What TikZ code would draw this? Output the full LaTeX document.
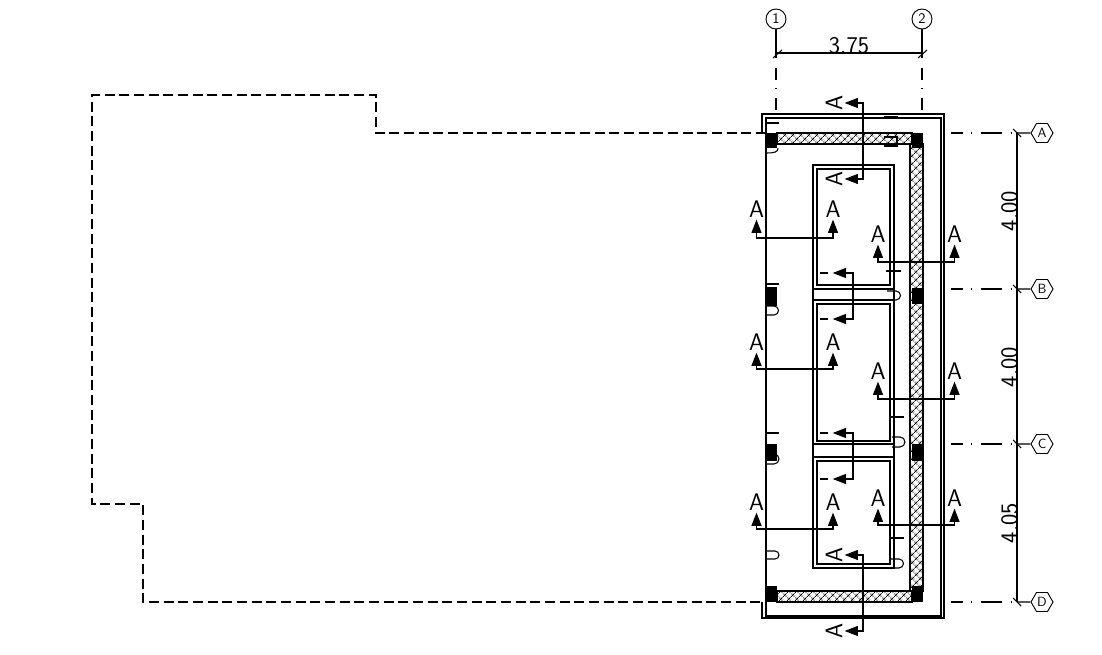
\documentclass[tikz,border=0pt]{standalone}
\usepackage{fontspec}
\usetikzlibrary{arrows.meta,patterns.meta,shapes.geometric}
\tikzset{
  >={Triangle[length=10pt,width=7.5pt]},
  wall/.style={draw=black, line width=.8pt},
  hatched/.style={draw=black, line width=.8pt, pattern={Hatch[angle=45,distance=4pt,line width=.55pt]}},
  column/.style={fill=black},
  fineline/.style={draw=black, line width=.8pt},
  outline/.style={draw=black, line width=.9pt, dash pattern=on 7.6pt off 3.4pt},
  axis/.style={draw=black, line width=.8pt, dash pattern=on 15.75pt off 6.5pt on .75pt off 6.5pt},
  axis start/.style={axis, dash phase=7pt},
  secpair/.style={draw, line width=.9pt, <->, shorten <=1.5pt, shorten >=1.5pt},
  secmid/.style={draw, line width=.9pt, <->, shorten <=9.5pt, shorten >=9.5pt},
  secmark/.style={inner sep=0pt, font=\sffamily\fontsize{18}{18}\selectfont},
  dimtext/.style={inner sep=0pt, font=\sffamily\fontsize{18}{18}\selectfont},
  axiscircle/.style={circle, draw, line width=.7pt, minimum size=15pt, inner sep=0pt,
    font=\sffamily\fontsize{11}{11}\selectfont},
  axishex/.style={regular polygon, regular polygon sides=6, draw, line width=.7pt,
    minimum size=16.5pt, inner sep=0pt, font=\sffamily\fontsize{10}{10}\selectfont},
}
\begin{document}
\begin{tikzpicture}[x=.75pt,y=-.75pt]
  \useasboundingbox (0,0) rectangle (1102,655);
  % dashed outline of the neighbouring plot
  \coordinate (plotA) at (766,133);
  \coordinate (plotD) at (766,602);
  \draw[outline] (plotA) -- (376,133) -- (376,95) -- (92,95) -- (92,504)
    -- (143,504) -- (143,602) -- (plotD);
  % frame
  \draw[wall] (762,133) -- (762,114) -- (944,114) -- (944,618) -- (762,618) -- (762,602);
  \draw[wall] (766,118) rectangle (941,616);
  % walls
  \filldraw[hatched] (777,133) rectangle (912,144);
  \filldraw[hatched] (777,591) rectangle (912,602);
  \filldraw[hatched] (910,144) rectangle (923,591);
  % columns
  \fill[column] (766,133) rectangle (777,148);
  \fill[column] (912,133) rectangle (923,148);
  \fill[column] (766,287) rectangle (777,306);
  \fill[column] (912,288) rectangle (923,304);
  \fill[column] (766,444) rectangle (777,461);
  \fill[column] (912,444) rectangle (923,461);
  \fill[column] (766,586) rectangle (777,602);
  \fill[column] (912,586) rectangle (923,602);
  % rooms
  \draw[wall] (813,165) rectangle (894,568);
  \draw[wall] (817,169) rectangle (890,285);
  \draw[wall] (813,289) -- (894,289);
  \draw[wall] (813,300) -- (894,300);
  \draw[wall] (817,304) rectangle (890,441);
  \draw[wall] (813,444) -- (894,444);
  \draw[wall] (813,457) -- (894,457);
  \draw[wall] (817,461) rectangle (890,564);
  % door marks
  \draw[fineline] (766,123) -- (779,123);
  \draw[fineline] (778,148) .. controls (778,152) and (775,153) .. (766,153);
  \draw[fineline] (766,284) -- (779,284);
  \draw[fineline] (766,306) -- (774,306) arc (-90:90:4.5) -- (766,315);
  \draw[fineline] (766,433) -- (779,433);
  \draw[fineline] (766,454) -- (774,454) arc (-90:90:5) -- (766,464);
  \draw[fineline] (766,551) -- (775,551) arc (-90:90:4) -- (766,559);
  \draw[fineline] (884,117) -- (898,117);
  \draw[fineline] (884,137) -- (897,137) -- (897,146) -- (884,146);
  \draw[fineline] (886,271) -- (901,271);
  \draw[fineline] (887,291) -- (896,291) arc (-90:90:4.5) -- (887,300);
  \draw[fineline] (891,417) -- (904,417);
  \draw[fineline] (892,437) -- (900,437) arc (-90:90:5) -- (892,447);
  \draw[fineline] (890,538) -- (904,538);
  \draw[fineline] (890,559) -- (899,559) arc (-90:90:4.5) -- (890,568);
  % axes 1 and 2
  \node[axiscircle] (ax1) at (776,19) {1};
  \node[axiscircle] (ax2) at (922,19) {2};
  \coordinate (ax1end) at (776,110);
  \coordinate (ax2end) at (922,110);
  \draw[fineline] (ax1) -- (776,58);
  \draw[fineline] (ax2) -- (922,58);
  \draw[axis start] (776,68) -- (ax1end);
  \draw[axis start] (922,68) -- (ax2end);
  \coordinate (dimx1) at (776,53);
  \coordinate (dimx2) at (922,53);
  \draw[fineline] (dimx1) -- (dimx2);
  \draw[fineline] (773,58) -- (782,50);
  \draw[fineline] (918,58) -- (927,50);
  \node[dimtext] (d375) at (849,45.5) {3.75};
  % axes A to D
  \node[axishex] (axA) at (1042,133) {A};
  \node[axishex] (axB) at (1042,289) {B};
  \node[axishex] (axC) at (1042,444) {C};
  \node[axishex] (axD) at (1042,602) {D};
  \draw[axis start] (951,133) -- (1013,133);
  \draw[axis start] (951,289) -- (1013,289);
  \draw[axis start] (951,444) -- (1013,444);
  \draw[axis start] (951,602) -- (1013,602);
  \coordinate (dimyA) at (1017,133);
  \coordinate (dimyB) at (1017,289);
  \coordinate (dimyC) at (1017,444);
  \coordinate (dimyD) at (1017,602);
  \draw[fineline] (1013,129) -- (1021,137);
  \draw[fineline] (1013,285) -- (1021,293);
  \draw[fineline] (1013,440) -- (1021,448);
  \draw[fineline] (1013,598) -- (1021,606);
  \draw[fineline] (dimyA) -- (axA);
  \draw[fineline] (dimyB) -- (axB);
  \draw[fineline] (dimyC) -- (axC);
  \draw[fineline] (dimyD) -- (axD);
  \draw[fineline] (dimyA) -- (dimyD);
  \node[dimtext, rotate=90] (d400a) at (1009.5,211) {4.00};
  \node[dimtext, rotate=90] (d400b) at (1009.5,367) {4.00};
  \node[dimtext, rotate=90] (d405) at (1009.5,523) {4.05};
  % section marks, top and bottom
  \node[secmark, rotate=90] (secT1) at (834,103) {A};
  \node[secmark, rotate=90] (secT2) at (834,179) {A};
  \coordinate (secTm) at (863,140);
  \draw[secpair] (secT1.south) -| (secTm) |- (secT2.south);
  \node[secmark, rotate=90] (secB1) at (834,555) {A};
  \node[secmark, rotate=90] (secB2) at (834,631) {A};
  \coordinate (secBm) at (863,590);
  \draw[secpair] (secB1.south) -| (secBm) |- (secB2.south);
  % section marks, left pairs
  \node[secmark] (secL1a) at (756.5,209) {A};
  \node[secmark] (secL1b) at (833,209) {A};
  \coordinate (secL1m) at (795,238);
  \draw[secpair] (secL1a.south) |- (secL1m) -| (secL1b.south);
  \node[secmark] (secL2a) at (756.5,342) {A};
  \node[secmark] (secL2b) at (833,342) {A};
  \coordinate (secL2m) at (795,369);
  \draw[secpair] (secL2a.south) |- (secL2m) -| (secL2b.south);
  \node[secmark] (secL3a) at (756.5,502) {A};
  \node[secmark] (secL3b) at (833,502) {A};
  \coordinate (secL3m) at (795,529);
  \draw[secpair] (secL3a.south) |- (secL3m) -| (secL3b.south);
  % section marks, right pairs
  \node[secmark] (secR1a) at (878,234) {A};
  \node[secmark] (secR1b) at (954.5,234) {A};
  \coordinate (secR1m) at (916,262);
  \draw[secpair] (secR1a.south) |- (secR1m) -| (secR1b.south);
  \node[secmark] (secR2a) at (878,371) {A};
  \node[secmark] (secR2b) at (954.5,371) {A};
  \coordinate (secR2m) at (916,399);
  \draw[secpair] (secR2a.south) |- (secR2m) -| (secR2b.south);
  \node[secmark] (secR3a) at (878,498) {A};
  \node[secmark] (secR3b) at (954.5,498) {A};
  \coordinate (secR3m) at (916,525);
  \draw[secpair] (secR3a.south) |- (secR3m) -| (secR3b.south);
  % section marks between the rooms
  \coordinate (secM1a) at (820,273);
  \coordinate (secM1b) at (820,319);
  \coordinate (secM1m) at (853,296);
  \draw[secmid] (secM1a) -| (secM1m) |- (secM1b);
  \draw[fineline] (secM1a) -- ++(8,0);
  \draw[fineline] (secM1b) -- ++(8,0);
  \coordinate (secM2a) at (820,433);
  \coordinate (secM2b) at (820,479);
  \coordinate (secM2m) at (853,456);
  \draw[secmid] (secM2a) -| (secM2m) |- (secM2b);
  \draw[fineline] (secM2a) -- ++(8,0);
  \draw[fineline] (secM2b) -- ++(8,0);
\end{tikzpicture}
\end{document}
